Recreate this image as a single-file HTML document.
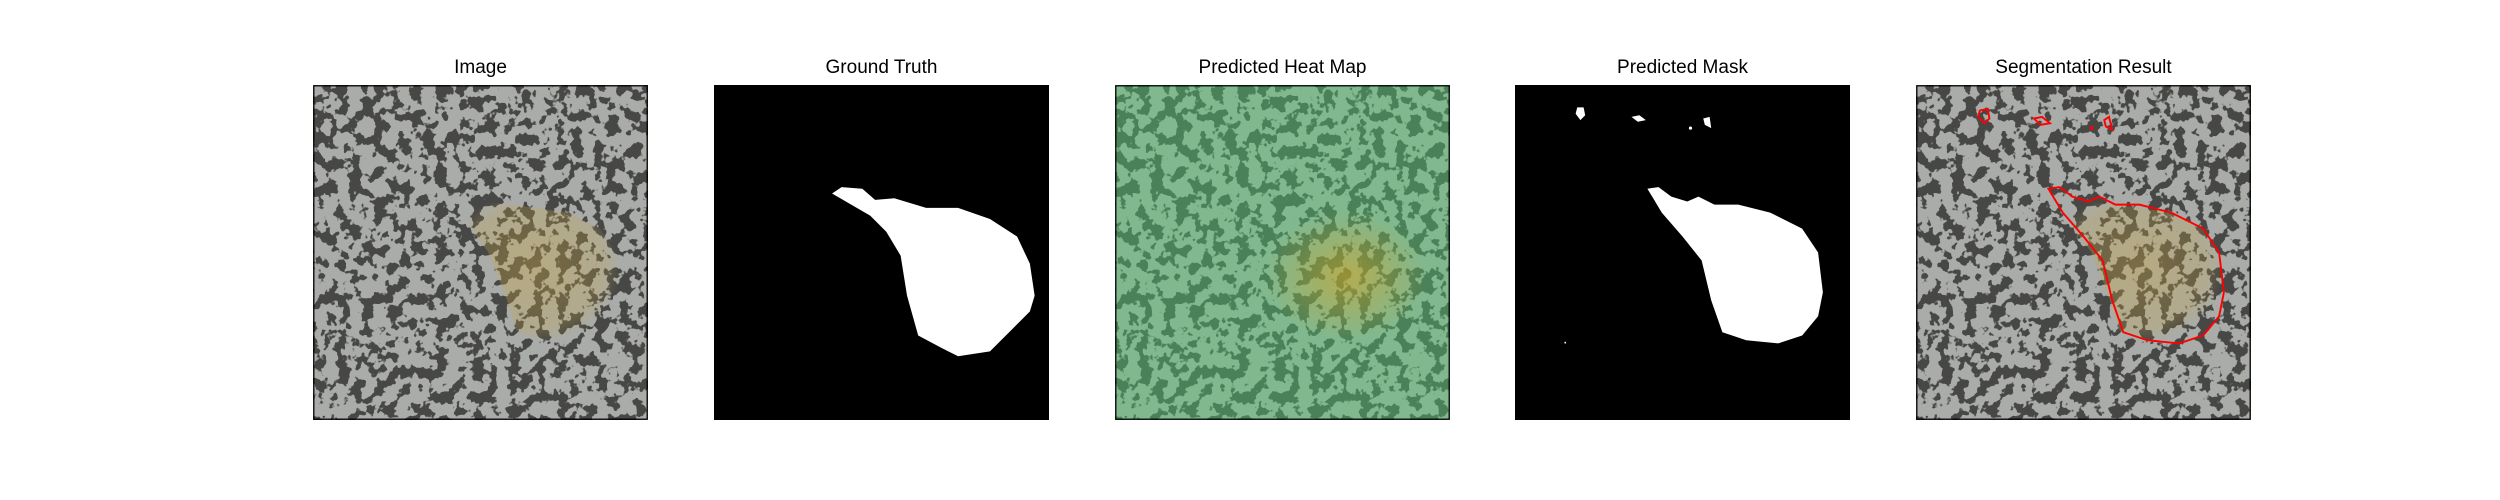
<!DOCTYPE html>
<html><head><meta charset="utf-8"><style>
html,body{margin:0;padding:0;background:#fff;width:2500px;height:500px;overflow:hidden;position:relative;font-family:"Liberation Sans","DejaVu Sans",sans-serif}
.t{position:absolute;top:57px;width:335px;text-align:center;font-size:19px;color:#000}
svg.p{position:absolute;top:85px;width:335px;height:335px}
</style></head><body>
<svg width="0" height="0" style="position:absolute"><defs>
<filter id="tex" x="0" y="0" width="100%" height="100%" color-interpolation-filters="sRGB">
<feTurbulence type="fractalNoise" baseFrequency="0.13" numOctaves="3" seed="4"/>
<feColorMatrix values="0 0 0 0 0.28  0 0 0 0 0.28  0 0 0 0 0.27  -24 0 0 0 11.7"/>
</filter>
<radialGradient id="yel" cx="0.5" cy="0.5" r="0.5"><stop offset="0" stop-color="rgb(200,165,70)" stop-opacity="0.4"/><stop offset="0.8" stop-color="rgb(200,165,70)" stop-opacity="0.25"/><stop offset="1" stop-color="rgb(200,165,70)" stop-opacity="0"/></radialGradient>
<radialGradient id="hy" cx="0.5" cy="0.5" r="0.5"><stop offset="0" stop-color="rgb(230,160,20)" stop-opacity="0.5"/><stop offset="1" stop-color="rgb(230,160,20)" stop-opacity="0"/></radialGradient>
</defs></svg>

<div class="t" style="left:313px">Image</div>
<svg class="p" style="left:313px" viewBox="0 0 210 210">
<rect width="210" height="210" fill="#a9aca8"/><rect width="210" height="210" filter="url(#tex)"/>
<path d="M84 66 L98 70 L108 73 L125 75 L160 80 L180 90 L190 105 L193 130 L185 150 L165 162 L145 160 L128 155 L120 130 L110 105 L92 80Z" fill="url(#yel)"/>
<rect x="0.5" y="0.5" width="209" height="209" fill="none" stroke="#000" stroke-width="0.8"/>
</svg>

<div class="t" style="left:714px">Ground Truth</div>
<svg class="p" style="left:714px" viewBox="0 0 210 210">
<rect width="210" height="210" fill="#000"/>
<path d="M74 68 L80 64 L93 65 L101 72 L113 71 L133 77 L153 77 L173 84 L190 95 L198 112 L201 132 L198 142 L188 152 L173 167 L153 170 L143 165 L128 157 L121 132 L117 107 L108 92 L98 82Z" fill="#fff"/>
</svg>

<div class="t" style="left:1115px">Predicted Heat Map</div>
<svg class="p" style="left:1115px" viewBox="0 0 210 210">
<rect width="210" height="210" fill="#a9aca8"/><rect width="210" height="210" filter="url(#tex)"/>
<rect width="210" height="210" fill="rgb(80,200,110)" opacity="0.45"/>
<ellipse cx="145" cy="120" rx="50" ry="40" fill="url(#hy)"/>
<rect x="0.5" y="0.5" width="209" height="209" fill="none" stroke="#000" stroke-width="0.8"/>
</svg>

<div class="t" style="left:1515px">Predicted Mask</div>
<svg class="p" style="left:1515px" viewBox="0 0 210 210">
<rect width="210" height="210" fill="#000"/>
<g fill="#fff">
<path d="M83 65 L90 64 L98 70 L108 73 L115 70 L125 75 L140 75 L160 80 L180 90 L190 105 L193 130 L190 145 L180 157 L165 162 L145 160 L130 155 L123 135 L117 110 L105 95 L92 80Z"/>
<path d="M39 14 L43 14 L44 19 L41 22 L38 18Z"/><path d="M73 20 L78 19 L82 22 L77 23Z"/><path d="M118 21 L122 20 L123 27 L119 25Z"/><circle cx="110" cy="27" r="1"/><rect x="31" y="161" width="1" height="1"/>
</g>
</svg>

<div class="t" style="left:1916px">Segmentation Result</div>
<svg class="p" style="left:1916px" viewBox="0 0 210 210">
<rect width="210" height="210" fill="#a9aca8"/><rect width="210" height="210" filter="url(#tex)"/>
<path d="M84 66 L98 70 L108 73 L125 75 L160 80 L180 90 L190 105 L193 130 L185 150 L165 162 L145 160 L128 155 L120 130 L110 105 L92 80Z" fill="url(#yel)"/>
<g fill="none" stroke="#f00" stroke-width="1.2">
<path d="M83 65 L90 64 L98 70 L108 73 L115 70 L125 75 L140 75 L160 80 L180 90 L190 105 L193 130 L190 145 L180 157 L165 162 L145 160 L130 155 L123 135 L117 110 L105 95 L92 80Z"/>
<path d="M40 16 L45 15 L46 21 L43 24 L39 20Z"/><path d="M74 21 L79 20 L84 24 L78 25Z"/><path d="M118 22 L121 20 L123 28 L119 26Z"/>
</g>
<circle cx="110" cy="27" r="1.2" fill="#f00"/>
<rect x="0.5" y="0.5" width="209" height="209" fill="none" stroke="#000" stroke-width="0.8"/>
</svg>
</body></html>
